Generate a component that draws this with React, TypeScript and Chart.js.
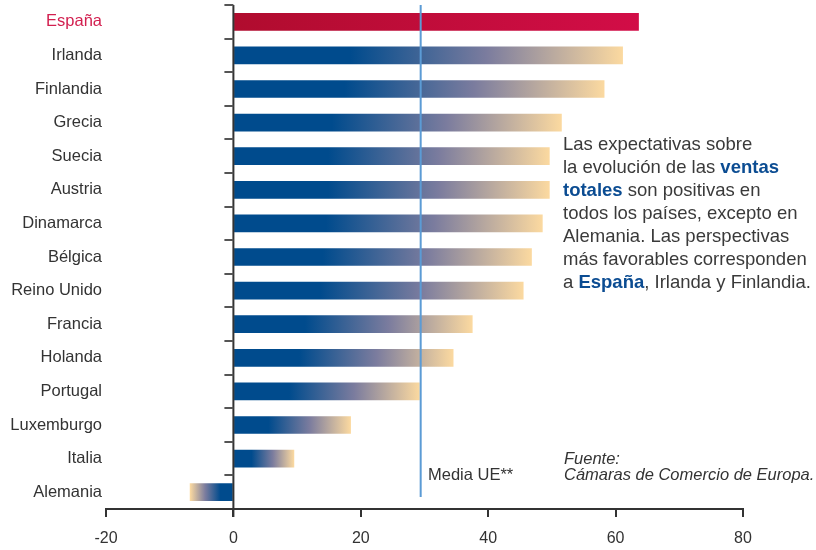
import React, { useEffect, useRef } from "react";
import { Chart, registerables } from "chart.js";

Chart.register(...registerables);

const categories = ["España", "Irlanda", "Finlandia", "Grecia", "Suecia", "Austria", "Dinamarca", "Bélgica", "Reino Unido", "Francia", "Holanda", "Portugal", "Luxemburgo", "Italia", "Alemania"];
const values = [63.6, 61.1, 58.2, 51.5, 49.6, 49.6, 48.5, 46.8, 45.5, 37.5, 34.5, 29.2, 18.4, 9.5, -6.8];
const mediaUE = 29.4;
const xTicks = [-20, 0, 20, 40, 60, 80];

const FONT = "'Liberation Sans', Arial, Helvetica, sans-serif";
const TEXT = "#333333";

const axesPlugin = {
  id: "axesPlugin",
  afterDatasetsDraw(chart: any) {
    const { ctx, chartArea, scales } = chart;
    const xs = scales.x;
    const ys = scales.y;
    const x0 = xs.getPixelForValue(0);
    const xm = xs.getPixelForValue(mediaUE);
    ctx.save();
    // media line
    ctx.strokeStyle = "#5B9BD5";
    ctx.lineWidth = 2;
    ctx.beginPath();
    ctx.moveTo(xm, chartArea.top);
    ctx.lineTo(xm, chartArea.bottom - 12);
    ctx.stroke();
    // zero axis
    ctx.strokeStyle = TEXT;
    ctx.lineWidth = 2;
    ctx.beginPath();
    ctx.moveTo(x0, chartArea.top);
    ctx.lineTo(x0, chartArea.bottom + 8);
    ctx.stroke();
    const step = ys.getPixelForValue(1) - ys.getPixelForValue(0);
    ctx.strokeStyle = "#555555";
    for (let i = 0; i < categories.length; i++) {
      const y = Math.round(ys.getPixelForValue(i) - step / 2);
      ctx.beginPath();
      ctx.moveTo(x0 - 9, y);
      ctx.lineTo(x0, y);
      ctx.stroke();
    }
    ctx.restore();
  },
};

export default function App() {
  const ref = useRef<HTMLCanvasElement>(null);
  useEffect(() => {
    const chart = new Chart(ref.current as HTMLCanvasElement, {
      type: "bar",
      data: {
        labels: categories,
        datasets: [
          {
            data: values,
            barThickness: 17,
            backgroundColor: (c: any) => {
              const chart = c.chart;
              if (!chart.chartArea || !chart.scales.x) return "#004B8D";
              const xs = chart.scales.x;
              const a = xs.getPixelForValue(0);
              const b = xs.getPixelForValue(c.raw);
              const g = chart.ctx.createLinearGradient(a, 0, b, 0);
              if (c.dataIndex === 0) {
                g.addColorStop(0, "#B00C2E");
                g.addColorStop(1, "#D20D47");
              } else {
                g.addColorStop(0, "#004B8D");
                g.addColorStop(0.3, "#004B8D");
                g.addColorStop(0.65, "#7B7C9E");
                g.addColorStop(1, "#FBD9A0");
              }
              return g;
            },
          },
        ],
      },
      options: {
        indexAxis: "y",
        responsive: false,
        animation: false,
        layout: { padding: { top: 5, right: 73, left: 0, bottom: 0 } },
        plugins: { legend: { display: false }, tooltip: { enabled: false } },
        scales: {
          x: {
            min: -20,
            max: 80,
            afterBuildTicks: (s: any) => {
              s.ticks = xTicks.map((v) => ({ value: v }));
            },
            afterFit: (s: any) => {
              s.height = 41;
              s.paddingLeft = 0;
              s.paddingRight = 0;
            },
            ticks: { color: TEXT, font: { family: FONT, size: 16 }, padding: 12 },
            grid: { drawOnChartArea: false, drawTicks: true, tickLength: 8, color: TEXT, lineWidth: 2 },
            border: { display: true, color: TEXT, width: 2 },
          },
          y: {
            afterFit: (s: any) => {
              s.width = 106;
              s.paddingTop = 0;
              s.paddingBottom = 0;
            },
            ticks: {
              color: (c: any) => (c.index === 0 ? "#D21F4F" : TEXT),
              font: { family: FONT, size: 16.5 },
              padding: 4,
            },
            grid: { display: false, drawTicks: false },
            border: { display: false },
          },
        },
      },
      plugins: [axesPlugin],
    } as any);
    return () => chart.destroy();
  }, []);

  const blue: React.CSSProperties = { color: "#0B4C92", fontWeight: "bold" };
  return (
    <div style={{ position: "fixed", left: 0, top: 0, width: 816, height: 550, background: "#fff" }}>
      <canvas ref={ref} width={816} height={550} style={{ position: "absolute", left: 0, top: 0 }} />
      <div style={{ position: "absolute", left: 563, top: 132, fontFamily: FONT, fontSize: 18.5, lineHeight: "23px", color: "#3a3a3a", whiteSpace: "nowrap" }}>
        Las expectativas sobre<br />
        la evolución de las <span style={blue}>ventas</span><br />
        <span style={blue}>totales</span> son positivas en<br />
        todos los países, excepto en<br />
        Alemania. Las perspectivas<br />
        más favorables corresponden<br />
        a <span style={blue}>España</span>, Irlanda y Finlandia.
      </div>
      <div style={{ position: "absolute", left: 428, top: 464, fontFamily: FONT, fontSize: 16.5, lineHeight: "20px", color: TEXT, whiteSpace: "nowrap" }}>
        Media UE**
      </div>
      <div style={{ position: "absolute", left: 564, top: 450, fontFamily: FONT, fontSize: 16.5, fontStyle: "italic", lineHeight: "16px", color: TEXT, whiteSpace: "nowrap" }}>
        Fuente:<br />
        Cámaras de Comercio de Europa.
      </div>
    </div>
  );
}
